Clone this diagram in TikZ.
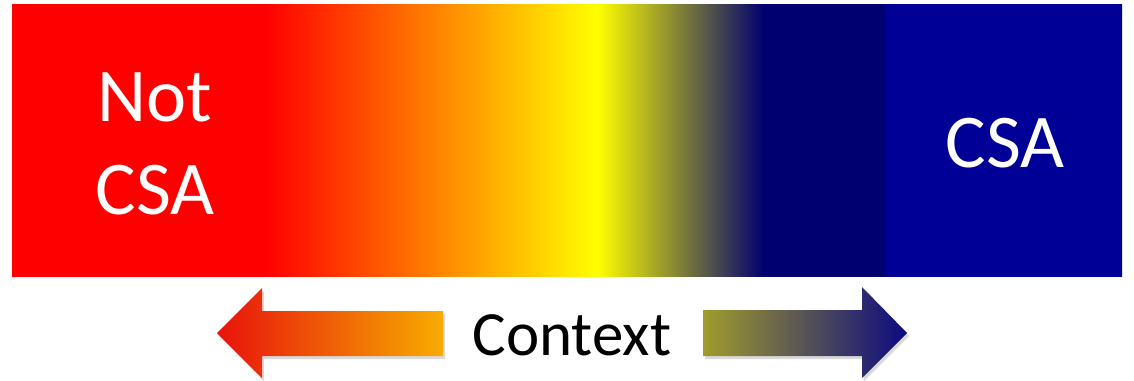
\documentclass[tikz,border=0pt]{standalone}
\usepackage{fontspec}
\setmainfont{Carlito}
\usepackage{tikz}
\usetikzlibrary{shadows}
\definecolor{csared}{RGB}{255, 0, 0}
\definecolor{csayellow}{RGB}{255, 255, 0}
\definecolor{csanavy}{RGB}{0, 0, 112}
\definecolor{csablue}{RGB}{0, 0, 150}
\definecolor{arrred}{RGB}{232, 18, 12}
\definecolor{arrorange}{RGB}{247, 172, 0}
\definecolor{arrolive}{RGB}{160, 156, 44}
\definecolor{arrnavy}{RGB}{12, 10, 128}
\tikzset{
    bartext/.style={text=white, font=\fontsize{76}{93}\selectfont, align=center, inner sep=0pt},
    ctxarrow/.style={drop shadow={shadow xshift=2pt, shadow yshift=-3pt, opacity=0.3}},
    ctxlabel/.style={font=\fontsize{63}{76}\selectfont, anchor=base, fill=white, rounded corners=6pt, inner xsep=24pt, inner ysep=6pt}
}

\begin{document}
\begin{tikzpicture}[x=1pt, y=-1pt]
    \useasboundingbox (0,0) rectangle (1134,380);

    % Colour bar
    \begin{scope}
        \clip (12,4) rectangle (1122,276);
        \fill [csared] (10,0) rectangle (266,280);
        \shade [left color=csared, right color=csayellow] (265,0) rectangle (598,280);
        \shade [left color=csayellow, right color=csanavy] (597,0) rectangle (764,280);
        \fill [csanavy] (763,0) rectangle (887,280);
        \fill [csablue] (886,0) rectangle (1124,280);
    \end{scope}

    % End labels
    \node (notcsa) [bartext] at (155,143.5) {Not\\CSA};
    \node (csa) [bartext] at (1005,143) {CSA};

    % Context arrows
    \shade [ctxarrow, left color=arrred, right color=arrorange]
        (217,333) -- (262,288) -- (262,311) -- (443,311) -- (443,356) -- (262,356) -- (262,378) -- cycle;
    \shade [ctxarrow, left color=arrolive, right color=arrnavy]
        (703,310) -- (862,310) -- (862,287) -- (907,333) -- (862,378) -- (862,356) -- (703,356) -- cycle;

    \node (context) [ctxlabel] at (572,355) {Context};

\end{tikzpicture}
\end{document}
